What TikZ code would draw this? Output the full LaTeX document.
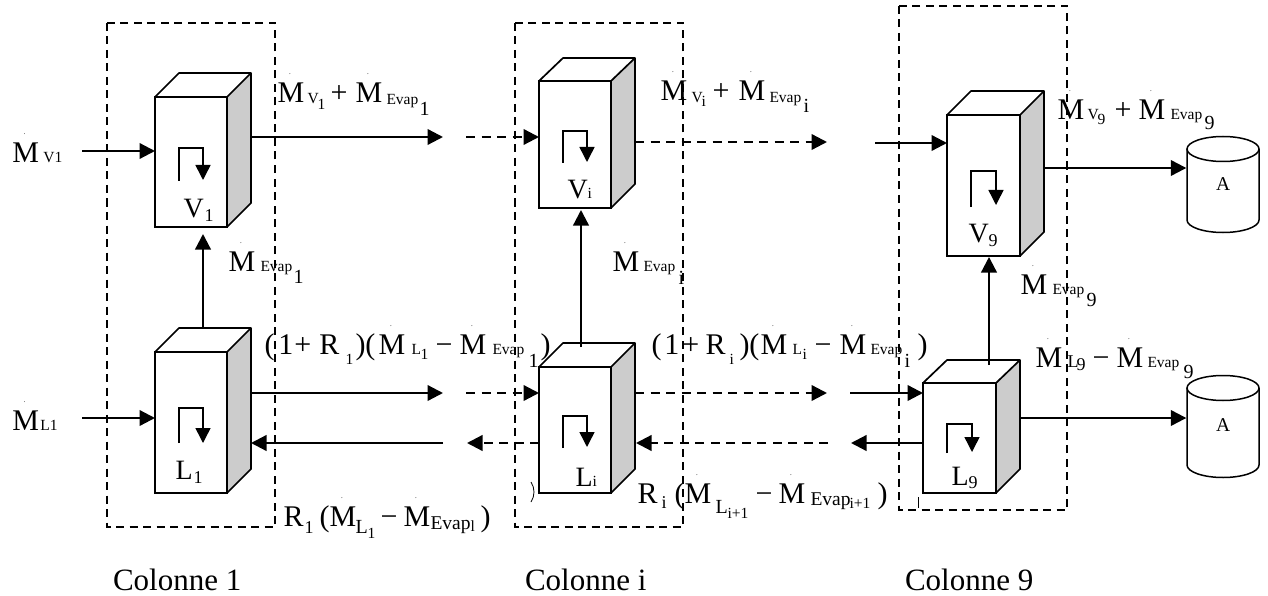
\documentclass[tikz,border=0pt]{standalone}
\usepackage{fontspec}
\setmainfont{Liberation Serif}
\usetikzlibrary{arrows.meta}
\newcommand\fb{\fontsize{30}{30}\selectfont}
\newcommand\fc{\fontsize{31}{31}\selectfont}
\newcommand\fd{\fontsize{28}{28}\selectfont}
\newcommand\fm{\fontsize{20}{20}\selectfont}
\newcommand\fn{\fontsize{18}{18}\selectfont}
\newcommand\fa{\fontsize{19.5}{19.5}\selectfont}
\newcommand\fs{\fontsize{15.5}{15.5}\selectfont}
\newcommand\pc[4]{\rlap{\kern #1pt\raisebox{-#2pt}{#3#4}}}
\newcommand\MM{\rlap{\kern 11.5pt\raisebox{28pt}{\fontsize{7}{7}\selectfont .}}M}
\newcommand\MP[1]{\pc{#1}{0}{\fb}{\MM}}
\tikzset{
 flow/.style={line width=2.3pt,-{Triangle[length=15.5pt,width=15.5pt]}},
 dflow/.style={flow,dash pattern=on 9pt off 6.5pt},
 frame/.style={line width=1.5pt,dash pattern=on 8pt off 5.5pt},
 inner/.style={line width=1.5pt,-{Triangle[length=15pt,width=15pt]}},
 lab/.style={inner sep=0pt,outer sep=0pt,anchor=base west},
 frontface/.style={draw,line width=1.7pt,fill=white,inner sep=0pt,outer sep=0pt},
 cyl/.style={line width=1.5pt}
}
% name, x1, x2, y1, y2, ytop, ybackbottom
\newcommand\cube[7]{%
 \pgfmathsetmacro\xb{#3+24}\pgfmathsetmacro\xa{#2+24}%
 \fill[fill=black!20] (#3,#4) -- (\xb,#6) -- (\xb,#7) -- (#3,#5) -- cycle;
 \draw[line width=1.7pt,line join=round] (#2,#4) -- (\xa,#6) -- (\xb,#6) -- (\xb,#7) -- (#3,#5) (#3,#4) -- (\xb,#6);
 \pgfmathsetmacro\boxw{#3-#2}\pgfmathsetmacro\boxh{#5-#4}%
 \node[frontface,minimum width=\boxw pt,minimum height=\boxh pt,anchor=north west] (#1) at (#2,#4) {};
 \coordinate (#1r) at (\xb,#4);
}
% name, xleft, xright, ytop ellipse centre, side bottom y
\newcommand\can[5]{%
 \pgfmathsetmacro\cx{(#2+#3)/2}\pgfmathsetmacro\rx{(#3-#2)/2}%
 \draw[cyl] (#2,#4) -- (#2,#5) arc[start angle=180,end angle=360,x radius=\rx,y radius=-12.5] -- (#3,#4);
 \draw[cyl] (\cx,#4) ellipse[x radius=\rx,y radius=12.5];
 \node[inner sep=0pt,minimum width=1pt,minimum height=1pt] (#1) at (#2,#4) {};
}
\begin{document}
\begin{tikzpicture}[x=1pt,y=-1pt]
\useasboundingbox (0,0) rectangle (1268,596);
% column frames
\draw[frame] (107,23) rectangle (275,527);
\draw[frame] (515,23) rectangle (683,527);
\draw[frame] (899,6) rectangle (1067,510);
% units
\cube{V1}{155}{227}{97}{227}{73}{203}
\cube{L1}{155}{227}{352}{493}{328}{469}
\cube{Vi}{539}{611}{81}{208}{58}{184}
\cube{Li}{539}{611}{367}{493}{343}{469}
\cube{V9}{947}{1020}{115}{256}{91}{232}
\cube{L9}{923}{996}{383}{493}{360}{469}
\can{A1}{1187}{1259}{149}{220}
\can{A2}{1187}{1259}{388}{465}
% free ends
\coordinate (mv) at (82,151);
\coordinate (ml) at (82,418);
\coordinate (a1) at (443,137);
\coordinate (a2) at (466,137);
\coordinate (a3) at (827,142);
\coordinate (a4) at (875,143);
\coordinate (b1) at (443,393);
\coordinate (b2) at (466,393);
\coordinate (b3) at (827,393);
\coordinate (b4) at (850,393);
\coordinate (c1) at (443,443);
\coordinate (c2) at (539,443);
\coordinate (c3) at (467,443);
\coordinate (c4) at (828,443);
\coordinate (c5) at (636,443);
\coordinate (c6) at (851,443);
\coordinate (v1s) at (203,328);
\coordinate (v1e) at (203,234);
\coordinate (vis) at (581,347);
\coordinate (vie) at (581,210);
\coordinate (v9s) at (989,365);
\coordinate (v9e) at (989,257);
\coordinate (o1) at (1043,168);
\coordinate (o2) at (1020,418);
% horizontal connectors
\draw[flow] (mv) -- (V1.west |- mv);
\draw[flow] (V1r |- a1) -- (a1);
\draw[dflow] (a2) -- (Vi.west |- a2);
\draw[dflow] (Vir |- a3) -- (a3);
\draw[flow] (a4) -- (V9.west |- a4);
\draw[flow] (o1) -- (A1.west |- o1);
\draw[flow] (ml) -- (L1.west |- ml);
\draw[flow] (L1r |- b1) -- (b1);
\draw[dflow] (b2) -- (Li.west |- b2);
\draw[dflow] (Lir |- b3) -- (b3);
\draw[flow] (b4) -- (L9.west |- b4);
\draw[flow] (c1) -- (L1r |- c1);
\draw[dflow] (c2) -- (c3);
\draw[dflow] (c4) -- (c5);
\draw[flow] (L9.west |- c6) -- (c6);
\draw[flow] (o2) -- (A2.west |- o2);
% vertical connectors
\draw[flow] (v1s) -- (v1e);
\draw[flow] (vis) -- (vie);
\draw[flow] (v9s) -- (v9e);
% recirculation arrows inside units
\draw[inner] (179,181) -- (179,148) -- (203,148) -- (203,180);
\draw[inner] (563,163) -- (563,131) -- (587,131) -- (587,162);
\draw[inner] (971,207) -- (971,171) -- (996,171) -- (996,205);
\draw[inner] (179,443) -- (179,408) -- (203,408) -- (203,443);
\draw[inner] (563,448) -- (563,416) -- (587,416) -- (587,447);
\draw[inner] (947,453) -- (947,424) -- (972,424) -- (972,452);
% stray fragments
\draw[line width=.8pt] (531,482) .. controls (535,488) and (535,496) .. (531,502);
\draw[line width=.8pt] (918,497) -- (918,508);
% unit names
\node[lab] (tV1) at (183,217) {\pc{0}{0}{\fd}{V}\pc{21}{5}{\fn}{1}};
\node[lab] (tL1) at (175,479) {\pc{0}{0}{\fd}{L}\pc{18}{4}{\fn}{1}};
\node[lab] (tVi) at (567,198) {\pc{0}{0}{\fd}{V}\pc{20}{0}{\fs}{i}};
\node[lab] (tLi) at (575,486) {\pc{0}{0}{\fd}{L}\pc{17}{0}{\fs}{i}};
\node[lab] (tV9) at (968,242) {\pc{0}{0}{\fd}{V}\pc{20}{4}{\fn}{9}};
\node[lab] (tL9) at (951,485) {\pc{0}{0}{\fd}{L}\pc{17}{3}{\fn}{9}};
\node[lab] (tA1) at (1216,190) {\fa A};
\node[lab] (tA2) at (1216,431) {\fa A};
% flow labels
\node[lab] (mvl) at (12,163) {\MP{0}\pc{31}{0}{\fs}{V1}};
\node[lab] (mll) at (12,430) {\MP{0}\pc{28}{0}{\fs}{L1}};
\node[lab] (q1) at (277,103) {\MP{0}\pc{30}{1}{\fs}{V}\pc{40}{7}{\fs}{1}\pc{53}{0}{\fb}{+}\MP{78}\pc{109}{2}{\fs}{Evap}\pc{142}{13}{\fm}{1}};
\node[lab] (qi) at (660,101) {\MP{0}\pc{31}{2}{\fs}{V}\pc{41}{6}{\fs}{i}\pc{52}{0}{\fb}{+}\MP{78}\pc{109}{2}{\fs}{Evap}\pc{143}{12}{\fm}{i}};
\node[lab] (q9) at (1057,120) {\MP{0}\pc{30}{0}{\fs}{V}\pc{40}{5}{\fs}{9}\pc{57}{0}{\fb}{+}\MP{81}\pc{113}{0}{\fs}{Evap}\pc{147}{10}{\fm}{9}};
\node[lab] (e1) at (228,271) {\MP{0}\pc{32}{0}{\fs}{Evap}\pc{65}{12}{\fm}{1}};
\node[lab] (ei) at (612,271) {\MP{0}\pc{31}{0}{\fs}{Evap}\pc{66}{13}{\fm}{i}};
\node[lab] (e9) at (1020,294) {\MP{0}\pc{32}{0}{\fs}{Evap}\pc{66}{12}{\fm}{9}};
\node[lab] (r1) at (264,354) {\pc{0}{0}{\fb}{(}\pc{14}{0}{\fb}{1}\pc{30}{0}{\fb}{+}\pc{55}{0}{\fb}{R}\pc{81}{10}{\fs}{1}\pc{91}{0}{\fb}{)(}\MP{114}\pc{147}{0}{\fs}{L}\pc{156}{5}{\fs}{1}\pc{171}{0}{\fb}{−}\MP{195}\pc{228}{0}{\fs}{Evap}\pc{264}{13}{\fm}{1}\pc{276}{0}{\fb}{)}};
\node[lab] (ri) at (651,354) {\pc{0}{0}{\fb}{(}\pc{13}{0}{\fb}{1}\pc{31}{0}{\fb}{+}\pc{54}{0}{\fb}{R}\pc{78}{10}{\fs}{i}\pc{88}{0}{\fb}{)(}\MP{109}\pc{141}{0}{\fs}{L}\pc{151}{5}{\fs}{i}\pc{163}{0}{\fb}{−}\MP{188}\pc{219}{0}{\fs}{Evap}\pc{253}{13}{\fm}{i}\pc{266}{0}{\fb}{)}};
\node[lab] (l9) at (1035,367) {\MP{0}\pc{32}{0}{\fn}{L}\pc{41}{3}{\fn}{9}\pc{57}{0}{\fb}{−}\MP{81}\pc{112}{0}{\fs}{Evap}\pc{148}{11}{\fm}{9}};
\node[lab] (b1l) at (283,526) {\pc{0}{0}{\fb}{R}\pc{21}{7}{\fn}{1}\pc{36}{0}{\fb}{(}\MP{46}\pc{72}{7}{\fm}{L}\pc{84}{12}{\fs}{1}\pc{97}{0}{\fb}{−}\MP{120}\pc{147}{3}{\fa}{Evap}\pc{187}{5}{\fs}{l}\pc{197}{0}{\fb}{)}};
\node[lab] (bil) at (637,503) {\pc{0}{0}{\fb}{R}\pc{24}{5}{\fn}{i}\pc{37}{0}{\fb}{(}\MP{47}\pc{78}{10}{\fm}{L}\pc{90}{15}{\fs}{i+1}\pc{118}{0}{\fb}{−}\MP{141}\pc{173}{2}{\fa}{Evap}\pc{212}{5}{\fs}{i+1}\pc{240}{0}{\fb}{)}};
% column names
\node[lab] (c1n) at (113,590) {\fc Colonne 1};
\node[lab] (cin) at (525,590) {\fc Colonne i};
\node[lab] (c9n) at (905,590) {\fc Colonne 9};
\end{tikzpicture}
\end{document}
